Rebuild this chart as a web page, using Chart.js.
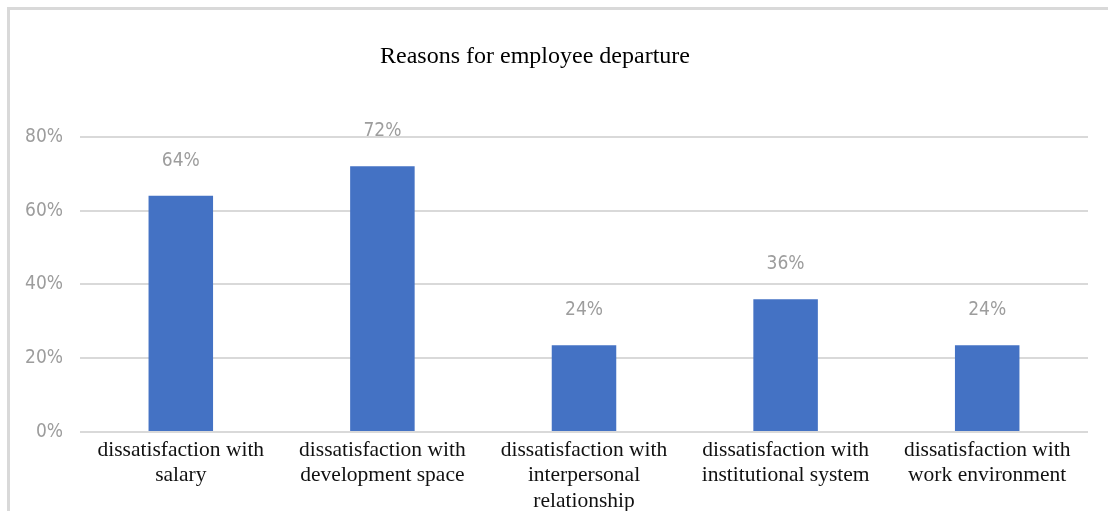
<!DOCTYPE html>
<html>
<head>
<meta charset="utf-8">
<script src="https://cdn.jsdelivr.net/npm/chart.js@4"></script>
<style>
  body { margin: 0; background: #fff; }
  #wrap { position: relative; width: 1108px; height: 511px; overflow: hidden; }
  #frame { position: absolute; left: 7px; top: 7px; width: 1200px; height: 600px;
           border-left: 3px solid #d9d9d9; border-top: 3px solid #d9d9d9; }
  canvas { position: absolute; left: 0; top: 0; }
</style>
</head>
<body>
<div id="wrap">
  <div id="frame"></div>
  <canvas id="myChart" width="1108" height="511"></canvas>
</div>
<script>
// data (percent)
const categories = [
  ['dissatisfaction with', 'salary'],
  ['dissatisfaction with', 'development space'],
  ['dissatisfaction with', 'interpersonal', 'relationship'],
  ['dissatisfaction with', 'institutional system'],
  ['dissatisfaction with', 'work environment']
];
const valeurs = [64, 72, 23.5, 36, 23.5];
const yTicks = [0, 20, 40, 60, 80];

const narrow = "'Liberation Sans Narrow', 'DejaVu Sans Condensed', 'Liberation Sans', sans-serif";

// labels above the bars
const labelsPlugin = {
  id: 'barLabels',
  afterDatasetsDraw(chart) {
    const ctx = chart.ctx;
    const meta = chart.getDatasetMeta(0);
    ctx.save();
    ctx.font = '19px ' + narrow;
    ctx.fillStyle = '#9d9d9d';
    ctx.textAlign = 'center';
    ctx.textBaseline = 'middle';
    meta.data.forEach(function (bar, i) {
      ctx.fillText(Math.round(valeurs[i]) + '%', bar.x, bar.y - 35);
    });
    ctx.restore();
  }
};

const ctx = document.getElementById('myChart');
const chart = new Chart(ctx, {
  type: 'bar',
  data: {
    labels: categories,
    datasets: [{
      data: valeurs,
      backgroundColor: '#4472C4',
      borderWidth: 0,
      categoryPercentage: 1,
      barPercentage: 0.32
    }]
  },
  options: {
    responsive: false,
    animation: false,
    devicePixelRatio: 1,
    layout: { padding: { left: 0, right: 20, top: 0, bottom: 0 } },
    plugins: {
      legend: { display: false },
      tooltip: { enabled: false },
      title: {
        display: true,
        // trailing spaces nudge the centred title a little to the left, like the original
        text: 'Reasons for employee departure   ',
        color: '#000',
        font: { family: "'Liberation Serif', serif", size: 24, weight: 'normal', lineHeight: 1.2 },
        padding: { top: 42, bottom: 66 }
      }
    },
    scales: {
      x: {
        grid: { display: false },
        border: { display: false },
        ticks: {
          color: '#111',
          padding: -3,
          maxRotation: 0,
          autoSkip: false,
          font: { family: "'Liberation Serif', serif", size: 21.5, lineHeight: 1.2 }
        },
        afterFit(scale) { scale.height = 79; }
      },
      y: {
        min: 0,
        max: 80,
        afterBuildTicks(scale) { scale.ticks = yTicks.map(v => ({ value: v })); },
        grid: { color: '#d9d9d9', lineWidth: 2, drawTicks: false },
        border: { display: false },
        ticks: {
          color: '#9d9d9d',
          padding: 17,
          font: { family: narrow, size: 19 },
          callback: v => v + '%'
        },
        afterFit(scale) { scale.width = 80; }
      }
    }
  },
  plugins: [labelsPlugin]
});
</script>
</body>
</html>
